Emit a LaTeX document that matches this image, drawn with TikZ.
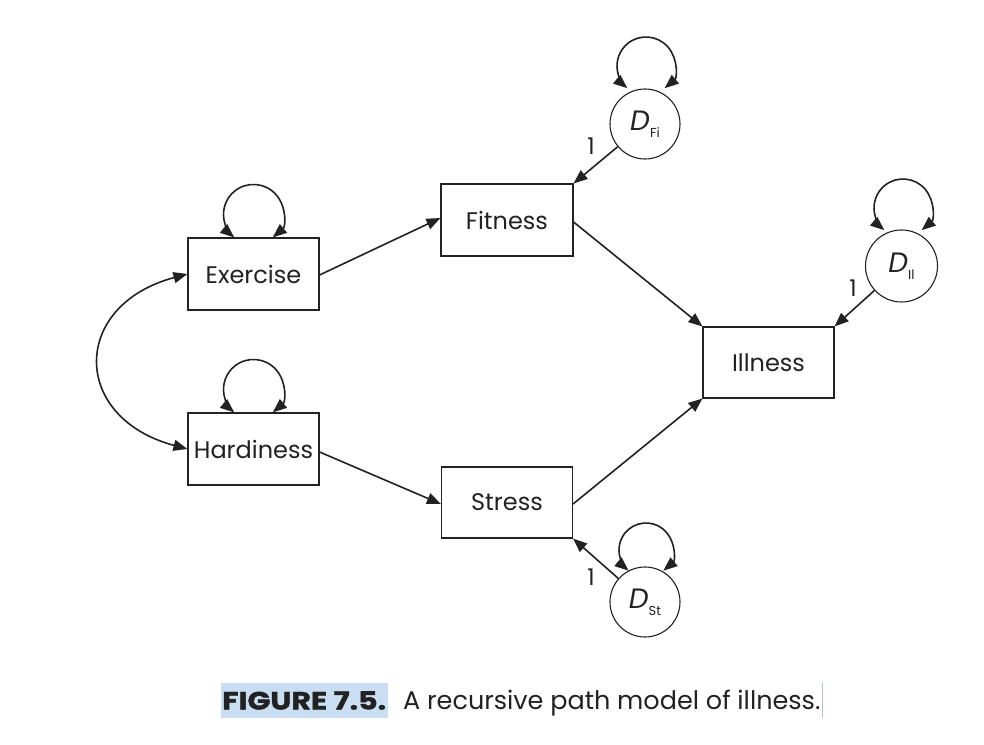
\documentclass[tikz,border=0pt]{standalone}
\usepackage{fontspec}
\setmainfont{Poppins}
\usetikzlibrary{arrows.meta,calc}
\definecolor{ink}{HTML}{222222}
\definecolor{hl}{HTML}{C9DDF3}
\definecolor{cursorc}{HTML}{A9C4E0}
\begin{document}
\begin{tikzpicture}[x=1pt,y=1pt,
  every node/.style={text=ink},
  box/.style={draw=ink, line width=1.1pt, minimum width=131pt, minimum height=72pt, inner sep=0pt, font=\fontsize{24}{26}\selectfont},
  dist/.style={draw=ink, circle, line width=1.1pt, minimum size=70pt, inner sep=0pt, font=\fontsize{28}{30}\selectfont},
  arr/.style={draw=ink, line width=1.6pt, -{Triangle[length=14pt,width=11pt]}},
  dbl/.style={draw=ink, line width=1.6pt, {Triangle[length=14pt,width=11pt]}-{Triangle[length=14pt,width=11pt]}},
  one/.style={font=\fontsize{23}{25}\selectfont, inner sep=0pt},
  captext/.style={font=\fontsize{25.5}{27}\selectfont, inner sep=0pt, anchor=base west}]
\useasboundingbox (0,0) rectangle (984,744);
\fill[white] (0,0) rectangle (984,744);

% boxes
\node[box] (ex) at (253.5,470) {Exercise};
\node[box] (hd) at (253.5,295) {Hardiness};
\node[box, minimum width=132pt] (fi) at (507,524) {Fitness};
\node[box, minimum height=71pt] (st) at (507,241.5) {Stress};
\node[box, minimum height=71pt] (il) at (768.5,381.5) {Illness};

% disturbances
\node[dist] (dfi) at (645,620) {\textit{D}\raisebox{-7pt}{\fontsize{13}{14}\selectfont Fi}};
\node[dist, minimum size=72pt] (dil) at (901.5,478) {\textit{D}\raisebox{-7pt}{\fontsize{13}{14}\selectfont Il}};
\node[dist] (dst) at (645,142) {\textit{D}\raisebox{-7pt}{\fontsize{13}{14}\selectfont St}};

% loop centres
\coordinate (lex) at ($(ex.north)+(0,23)$);
\coordinate (lhd) at ($(hd.north)+(0,23)$);
\coordinate (lfi) at (646,678);
\coordinate (lst) at (646,194);
\coordinate (lil) at (903,536);

% self loops
\draw[dbl] ($(lex)+(-50:30pt)$) arc[start angle=-50, end angle=230, radius=30pt];
\draw[dbl] ($(lhd)+(-50:30pt)$) arc[start angle=-50, end angle=230, radius=30pt];
\draw[dbl] ($(lfi)+(-50:29pt)$) arc[start angle=-50, end angle=230, radius=29pt];
\draw[dbl] ($(lst)+(-50:27pt)$) arc[start angle=-50, end angle=230, radius=27pt];
\draw[dbl] ($(lil)+(-50:29pt)$) arc[start angle=-50, end angle=230, radius=29pt];

% covariance
\draw[dbl] (ex.west) .. controls +(195:121pt) and +(165:121pt) .. (hd.west);

% paths
\draw[arr] ($(ex.east)+(0,-1)$) -- ($(fi.west)+(0,2)$);
\draw[arr] ($(hd.east)+(0,-3)$) -- ($(st.west)+(0,-1.5)$);
\draw[arr] ($(fi.east)+(0,-2)$) -- (il.north west);
\draw[arr] ($(st.east)+(0,-1.5)$) -- (il.south west);
\draw[arr] (dfi) -- (fi.north east);
\draw[arr] (dil) -- (il.north east);
\draw[arr] (dst) -- (st.south east);

% labels
\node[one] (l1) at (591,598) {1};
\node[one] (l2) at (853,456) {1};
\node[one] (l3) at (591,167) {1};

% caption
\fill[hl] (221,26) rectangle (388,61);
\node[captext, font=\fontsize{25}{27}\selectfont\bfseries\addfontfeature{FakeStretch=1.2,FakeBold=1.5}] (capa) at (222,34.5) {FIGURE 7.5.};
\node[captext] (capb) at (403,34.5) {A recursive path model of illness.};
\draw[cursorc, line width=1pt] (822,26) -- (822,61);
\end{tikzpicture}
\end{document}
